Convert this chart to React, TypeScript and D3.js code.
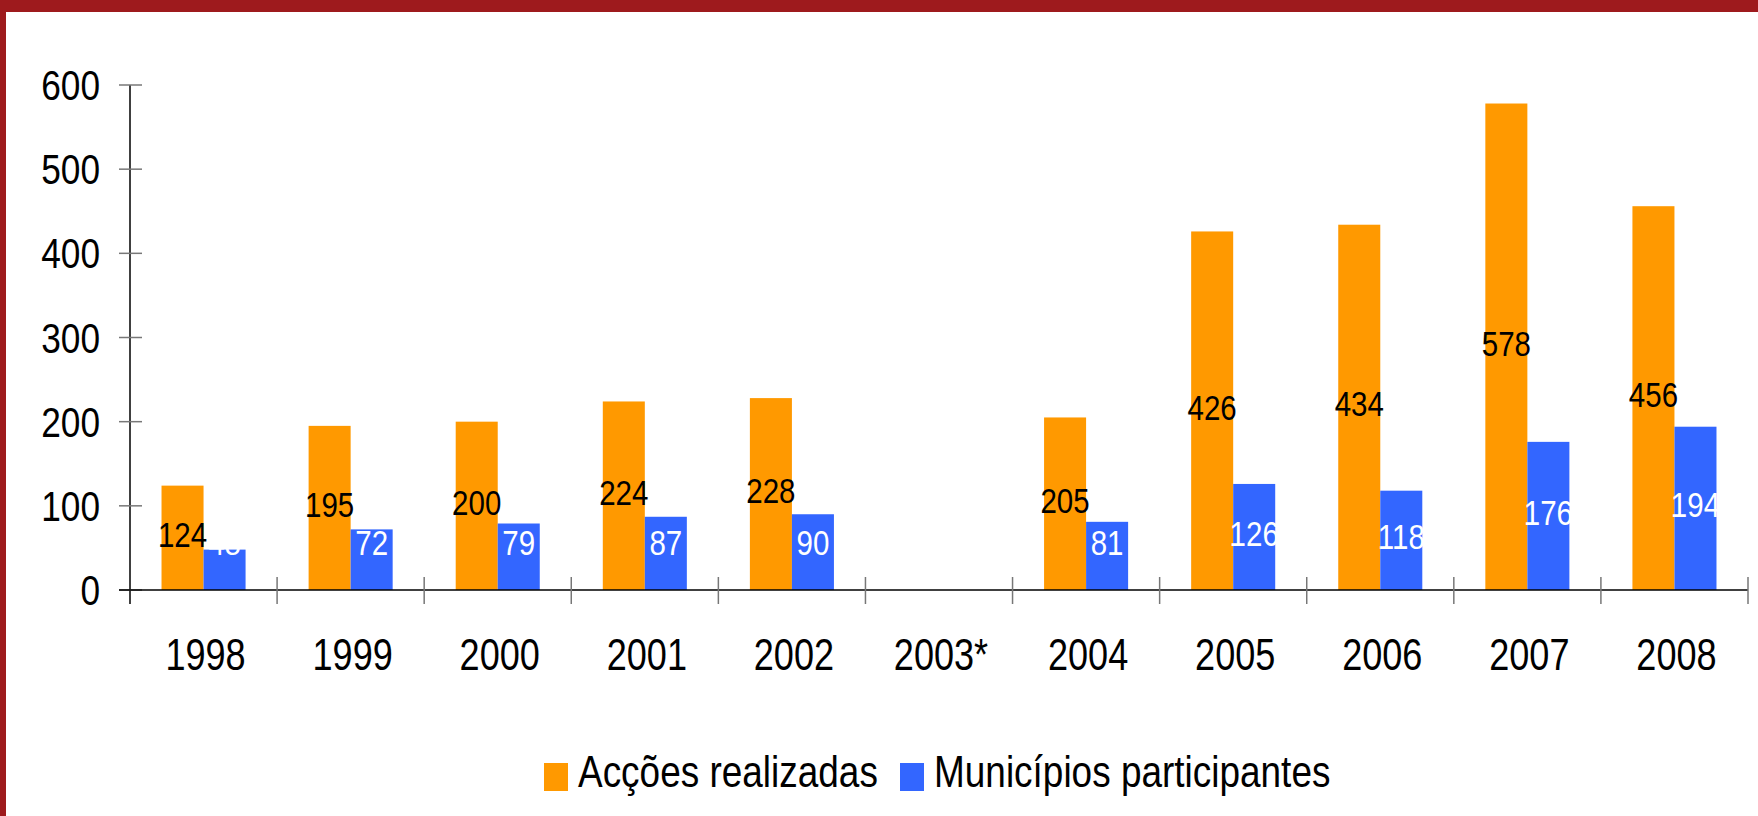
import React, { useEffect } from "react";
import * as d3 from "d3";

const years = ["1998", "1999", "2000", "2001", "2002", "2003*", "2004", "2005", "2006", "2007", "2008"];
const accoes = [124, 195, 200, 224, 228, null, 205, 426, 434, 578, 456];
const municipios = [48, 72, 79, 87, 90, null, 81, 126, 118, 176, 194];
const seriesNames = ["Acções realizadas", "Municípios participantes"];
const seriesColors = ["#FF9900", "#3366FF"];
const yTicks = [0, 100, 200, 300, 400, 500, 600];

const W = 1758;
const H = 816;
const font = "'Liberation Sans', Arial, sans-serif";
const squeeze = 0.82;

export default function App() {
  useEffect(() => {
    document.body.style.margin = "0";
  }, []);

  const x0 = d3.scaleBand().domain(years).range([130, 1748]).padding(0);
  const x1 = d3
    .scaleBand()
    .domain(seriesNames)
    .range([0, x0.bandwidth()])
    .paddingInner(0)
    .paddingOuter(0.75);
  const y = d3.scaleLinear().domain([0, 600]).range([590, 85]);

  const series = [accoes, municipios];
  const labelColors = ["#000", "#fff"];

  return (
    <svg width={W} height={H} style={{ display: "block" }}>
      <rect x={0} y={0} width={W} height={H} fill="#fff" />
      {/* frame */}
      <rect x={0} y={0} width={W} height={12} fill="#9E1A1D" />
      <rect x={0} y={0} width={6} height={H} fill="#9E1A1D" />

      {/* bars */}
      {series.map((vals, si) =>
        vals.map((v, i) =>
          v == null ? null : (
            <rect
              key={`b${si}-${i}`}
              x={(x0(years[i]) as number) + (x1(seriesNames[si]) as number)}
              y={y(v)}
              width={x1.bandwidth()}
              height={y(0) - y(v)}
              fill={seriesColors[si]}
            />
          )
        )
      )}

      {/* data labels */}
      {series.map((vals, si) =>
        vals.map((v, i) => {
          if (v == null) return null;
          const cx = (x0(years[i]) as number) + (x1(seriesNames[si]) as number) + x1.bandwidth() / 2;
          const mid = (y(v) + y(0)) / 2;
          const cy = Math.min(mid - 4, y(0) - 48);
          return (
            <text
              key={`l${si}-${i}`}
              transform={`translate(${cx},${cy + 13}) scale(${squeeze},1)`}
              textAnchor="middle"
              fontFamily={font}
              fontSize={36}
              fill={labelColors[si]}
            >
              {v}
            </text>
          );
        })
      )}

      {/* y axis */}
      <line x1={130} x2={130} y1={y(600)} y2={604} stroke="#000" strokeWidth={1.5} />
      {yTicks.map((t) => (
        <g key={`yt${t}`}>
          <line x1={119} x2={142} y1={y(t)} y2={y(t)} stroke="#777" strokeWidth={1.5} />
          <text
            transform={`translate(100,${y(t) + 15}) scale(${squeeze},1)`}
            textAnchor="end"
            fontFamily={font}
            fontSize={43}
            fill="#000"
          >
            {t}
          </text>
        </g>
      ))}

      {/* x axis */}
      <line x1={119} x2={1748} y1={y(0)} y2={y(0)} stroke="#000" strokeWidth={1.5} />
      {years.map((yr, i) => (
        <line
          key={`xt${i}`}
          x1={(x0(yr) as number) + x0.bandwidth()}
          x2={(x0(yr) as number) + x0.bandwidth()}
          y1={577}
          y2={604}
          stroke="#777"
          strokeWidth={1.5}
        />
      ))}
      {years.map((yr) => (
        <text
          key={`xl${yr}`}
          transform={`translate(${(x0(yr) as number) + x0.bandwidth() / 2 + 2},670) scale(${squeeze},1)`}
          textAnchor="middle"
          fontFamily={font}
          fontSize={44}
          fill="#000"
        >
          {yr}
        </text>
      ))}

      {/* legend */}
      {seriesNames.map((name, si) => {
        const lx = si === 0 ? 544 : 900;
        return (
          <g key={`lg${si}`}>
            <rect x={lx} y={763} width={24} height={28} fill={seriesColors[si]} />
            <text
              transform={`translate(${lx + 34},787) scale(0.84,1)`}
              fontFamily={font}
              fontSize={44}
              fill="#000"
            >
              {name}
            </text>
          </g>
        );
      })}
    </svg>
  );
}
